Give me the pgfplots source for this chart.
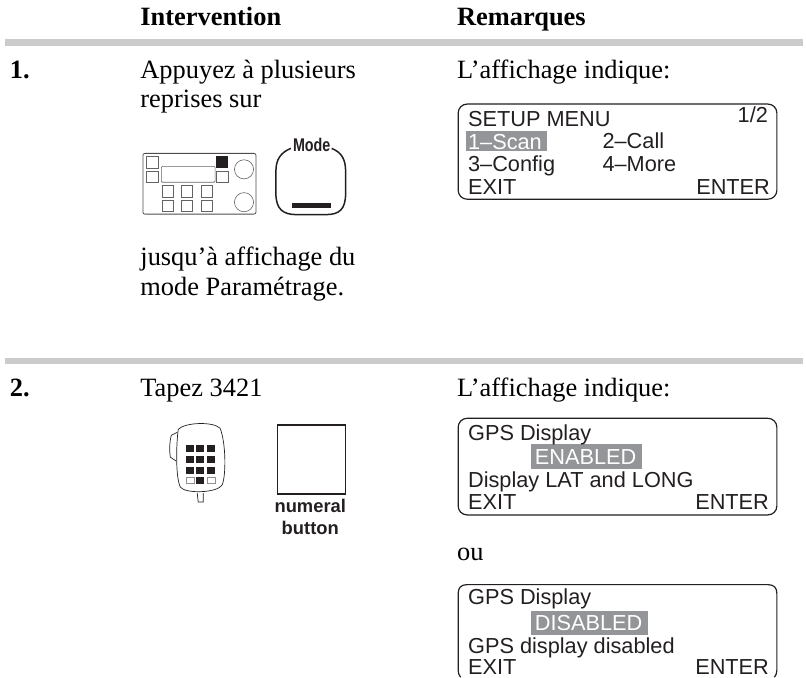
\documentclass[border=0pt]{standalone}
\usepackage{pgfplots}
\pgfplotsset{compat=1.18}
\usepackage{fontspec}
\setmainfont{Liberation Serif}
\newfontfamily\arial{Liberation Sans}
\definecolor{rulegray}{HTML}{CBCBCB}
\definecolor{hl}{HTML}{939598}
\definecolor{ink}{HTML}{231F20}
\newcommand{\bodyf}{\fontsize{26.6}{30}\selectfont}
\newcommand{\sansf}{\arial\fontsize{21.9}{24}\selectfont}
\tikzset{
  T/.style={anchor=base west, inner sep=0pt, outer sep=0pt, font=\bodyf, text=black},
  TB/.style={anchor=base west, inner sep=0pt, outer sep=0pt, font=\bodyf\bfseries, text=black},
  S/.style={anchor=base west, inner sep=0pt, outer sep=0pt, font=\sansf, text=ink},
  K/.style={anchor=base, inner sep=0pt, outer sep=0pt, text=ink, font=\arial\bfseries\fontsize{18.5}{18}\selectfont},
}
\pgfplotstableread{
x y
5 42.5
806 42.5
}\ruleA
\pgfplotstableread{
x y
5 362.7
806 362.7
}\ruleB
\begin{document}
\begin{tikzpicture}
\begin{axis}[
  scale only axis, width=806bp, height=680bp,
  xmin=0, xmax=806, ymin=0, ymax=680, y dir=reverse,
  hide axis, clip=false,
]
\path (axis cs:0,0) rectangle (axis cs:806,680);
\addplot[rulegray, line width=6.5bp, forget plot] table {\ruleA};
\addplot[rulegray, line width=6.5bp, forget plot] table {\ruleB};
% headers
\node[TB] at (axis cs:141,26) {Intervention};
\node[TB] at (axis cs:459,26) {Remarques};
% step 1
\node[TB] at (axis cs:10,79) {1.};
\node[T] at (axis cs:141,79) {Appuyez à plusieurs};
\node[T] at (axis cs:141,108) {reprises sur};
\node[T] at (axis cs:459,79) {L’affichage indique:};
\node[T] at (axis cs:141,267) {jusqu’à affichage du};
\node[T] at (axis cs:141,297) {mode Paramétrage.};
% step 2
\node[TB] at (axis cs:10,398) {2.};
\node[T] at (axis cs:141,398) {Tapez 3421};
\node[T] at (axis cs:459,398) {L’affichage indique:};
\node[T] at (axis cs:459,563) {ou};
% display 1
\draw[ink,line width=1.2bp,rounded corners=9bp] (axis cs:460,104.5) rectangle (axis cs:780,200);
\fill[hl] (axis cs:468,132) rectangle (axis cs:549,152);
\node[S] at (axis cs:470,127) {SETUP MENU};
\node[S,anchor=base east] at (axis cs:771,123) {1/2};
\node[S,text=white] at (axis cs:470,150) {1–Scan};
\node[S] at (axis cs:605,149) {2–Call};
\node[S] at (axis cs:470,172) {3–Config};
\node[S] at (axis cs:605,172) {4–More};
\node[S] at (axis cs:470,195) {EXIT};
\node[S,anchor=base east] at (axis cs:773,195) {ENTER};
% display 2
\draw[ink,line width=1.2bp,rounded corners=9bp] (axis cs:460,420) rectangle (axis cs:780,517);
\fill[hl] (axis cs:533,446) rectangle (axis cs:645,471);
\node[S] at (axis cs:470,442) {GPS Display};
\node[S,text=white] at (axis cs:537,466) {ENABLED};
\node[S] at (axis cs:470,489) {Display LAT and LONG};
\node[S] at (axis cs:470,512) {EXIT};
\node[S,anchor=base east] at (axis cs:772,512) {ENTER};
% display 3 (its lower edge is cut off by the page)
\draw[ink,line width=1.2bp] (axis cs:462.5,680) .. controls (axis cs:461,678) and (axis cs:460,676) .. (axis cs:460,673)
  -- (axis cs:460,596) .. controls (axis cs:460,590) and (axis cs:463,587) .. (axis cs:469,587)
  -- (axis cs:771,587) .. controls (axis cs:777,587) and (axis cs:780,590) .. (axis cs:780,596)
  -- (axis cs:780,673) .. controls (axis cs:780,676) and (axis cs:779,678) .. (axis cs:777.5,680);
\fill[hl] (axis cs:533,613) rectangle (axis cs:651,638);
\node[S] at (axis cs:470,607) {GPS Display};
\node[S,text=white] at (axis cs:537,633) {DISABLED};
\node[S] at (axis cs:470,656) {GPS display disabled};
\node[S] at (axis cs:470,677) {EXIT};
\node[S,anchor=base east] at (axis cs:772,677) {ENTER};
% radio
\draw[ink!80,line width=.8bp,rounded corners=2bp] (axis cs:143.5,154) rectangle (axis cs:257,215);
\draw[ink!70,line width=.6bp] (axis cs:147,157) rectangle (axis cs:159,169);
\draw[ink!70,line width=.6bp] (axis cs:147,172) rectangle (axis cs:159,183);
\draw[ink!70,line width=.6bp,rounded corners=1bp] (axis cs:162,167) rectangle (axis cs:216,183);
\draw[ink!70,line width=.6bp] (axis cs:217,172) rectangle (axis cs:229,183);
\draw[ink!70,line width=.6bp] (axis cs:163,186) rectangle (axis cs:174,198);
\draw[ink!70,line width=.6bp] (axis cs:182,186) rectangle (axis cs:193,198);
\draw[ink!70,line width=.6bp] (axis cs:202,186) rectangle (axis cs:213,198);
\draw[ink!70,line width=.6bp] (axis cs:163,201) rectangle (axis cs:174,212);
\draw[ink!70,line width=.6bp] (axis cs:182,201) rectangle (axis cs:193,212);
\draw[ink!70,line width=.6bp] (axis cs:202,201) rectangle (axis cs:213,212);
\fill[ink] (axis cs:217,157) rectangle (axis cs:229,169);
\draw[ink!70,line width=.6bp] (axis cs:245,170) circle[radius=9.6bp];
\draw[ink!70,line width=.6bp] (axis cs:245,203) circle[radius=9.6bp];
% mode key
\draw[ink,line width=1.5bp] (axis cs:292,149) .. controls (axis cs:282,153) and (axis cs:277,160) .. (axis cs:277,172)
  -- (axis cs:277,194) .. controls (axis cs:277,210) and (axis cs:284,215.5) .. (axis cs:298,215.5)
  -- (axis cs:327,215.5) .. controls (axis cs:341,215.5) and (axis cs:347,210) .. (axis cs:347,194)
  -- (axis cs:347,172) .. controls (axis cs:347,160) and (axis cs:343,153) .. (axis cs:333,149);
\fill[ink] (axis cs:293,204) rectangle (axis cs:332,208.5);
\node[K] at (axis cs:313,152) {\scalebox{.78}[1]{Mode}};
% microphone
\draw[ink,line width=.7bp] (axis cs:179,431) .. controls (axis cs:186,424) and (axis cs:214,423) .. (axis cs:221,430)
 .. controls (axis cs:227,445) and (axis cs:227,478) .. (axis cs:223,487)
 .. controls (axis cs:218,495) and (axis cs:186,496) .. (axis cs:181,489)
 .. controls (axis cs:176,478) and (axis cs:177,445) .. (axis cs:179,431);
\draw[ink,line width=.7bp] (axis cs:178,434) -- (axis cs:172,437) .. controls (axis cs:170,445) and (axis cs:170,452) .. (axis cs:171,459) -- (axis cs:177,463);
\draw[ink,line width=.7bp] (axis cs:198,495) -- (axis cs:199,504) -- (axis cs:204,504) -- (axis cs:204,495);
\pgfplotsinvokeforeach{447,458,469}{
  \fill[ink] (axis cs:187,#1) rectangle (axis cs:195,#1+7);
  \fill[ink] (axis cs:197,#1) rectangle (axis cs:205,#1+7);
  \fill[ink] (axis cs:208,#1) rectangle (axis cs:216,#1+7);
}
\fill[ink] (axis cs:197,479) rectangle (axis cs:205,486);
\draw[ink!50,line width=.5bp] (axis cs:187,479.5) rectangle (axis cs:195,485.5);
\draw[ink!50,line width=.5bp] (axis cs:208,479.5) rectangle (axis cs:216,485.5);
% numeral key
\draw[ink,line width=1.6bp] (axis cs:278.5,427) rectangle (axis cs:347,496);
\node[K] at (axis cs:311.5,515) {numeral};
\node[K] at (axis cs:311.5,536.7) {button};
\end{axis}
\end{tikzpicture}
\end{document}
